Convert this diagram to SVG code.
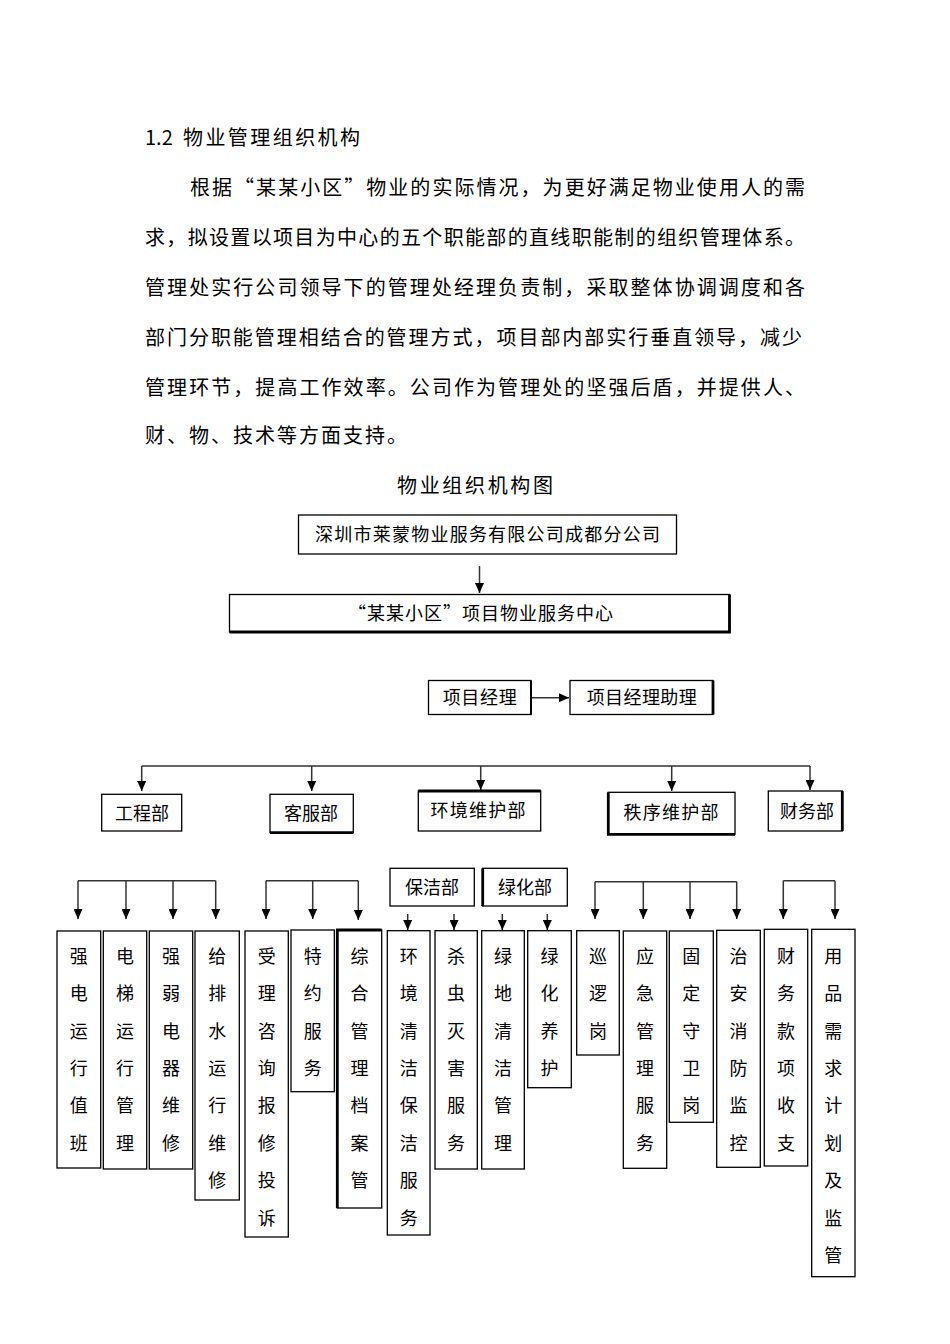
<svg xmlns="http://www.w3.org/2000/svg" width="950" height="1344" viewBox="0 0 950 1344">
<style>
text { font-family: "Noto Sans CJK SC", "Noto Sans", sans-serif; fill: #000; }
.p { font-size: 20px; }
.h { font-size: 18px; text-anchor: middle; }
.box { fill: #fff; stroke: #000; stroke-width: 1.3; }
.thk { stroke: #000; stroke-width: 2.8; fill: none; }
.conn { stroke: #333; stroke-width: 1.5; fill: none; }
.arr { stroke: #333; stroke-width: 1.5; fill: none; marker-end: url(#ah); }
</style>
<defs>
<marker id="ah" viewBox="0 0 10 10" refX="10" refY="5" markerWidth="10" markerHeight="9" markerUnits="userSpaceOnUse" orient="auto" preserveAspectRatio="none">
<path d="M0,0 L10,5 L0,10 Z" fill="#000"/>
</marker>
</defs>
<rect width="950" height="1344" fill="#fff"/>

<g id="body-text">
<text class="p" y="144.5"><tspan x="145">1.2</tspan><tspan x="183" textLength="177" lengthAdjust="spacing">物业管理组织机构</tspan></text>
<text class="p" x="190" y="194.5" textLength="615" lengthAdjust="spacing">根据“某某小区”物业的实际情况，为更好满足物业使用人的需</text>
<text class="p" x="145" y="244.5" textLength="660" lengthAdjust="spacing">求，拟设置以项目为中心的五个职能部的直线职能制的组织管理体系。</text>
<text class="p" x="145" y="294.5" textLength="660" lengthAdjust="spacing">管理处实行公司领导下的管理处经理负责制，采取整体协调调度和各</text>
<text class="p" x="145" y="344.5" textLength="657" lengthAdjust="spacing">部门分职能管理相结合的管理方式，项目部内部实行垂直领导，减少</text>
<text class="p" x="145" y="394.5" textLength="660" lengthAdjust="spacing">管理环节，提高工作效率。公司作为管理处的坚强后盾，并提供人、</text>
<text class="p" x="145" y="442.5" textLength="262" lengthAdjust="spacing">财、物、技术等方面支持。</text>
<text class="p" x="397" y="492.5" textLength="156" lengthAdjust="spacing">物业组织机构图</text>
</g>

<g id="connectors">
<line class="arr" x1="479.5" y1="566" x2="479.5" y2="593"/>
<line class="arr" x1="531" y1="697.7" x2="569" y2="697.7"/>
<polyline class="conn" points="141.7,766 810,766"/>
<line class="arr" x1="141.7" y1="766" x2="141.7" y2="791"/>
<line class="arr" x1="311.7" y1="766" x2="311.7" y2="791"/>
<line class="arr" x1="480.7" y1="766" x2="480.7" y2="790"/>
<line class="arr" x1="671.7" y1="766" x2="671.7" y2="791"/>
<line class="arr" x1="810" y1="766" x2="810" y2="790"/>

<line class="conn" x1="78" y1="880.7" x2="215.7" y2="880.7"/>
<line class="arr" x1="78" y1="880.7" x2="78" y2="919"/>
<line class="arr" x1="126" y1="880.7" x2="126" y2="919"/>
<line class="arr" x1="173" y1="880.7" x2="173" y2="919"/>
<line class="arr" x1="215.7" y1="880.7" x2="215.7" y2="919"/>

<line class="conn" x1="266" y1="880.7" x2="358.3" y2="880.7"/>
<line class="arr" x1="266" y1="880.7" x2="266" y2="919"/>
<line class="arr" x1="312.7" y1="880.7" x2="312.7" y2="919"/>
<line class="arr" x1="358.3" y1="880.7" x2="358.3" y2="920"/>

<line class="arr" x1="407.7" y1="914" x2="407.7" y2="930"/>
<line class="arr" x1="454" y1="914" x2="454" y2="930"/>
<line class="arr" x1="502.3" y1="914" x2="502.3" y2="930"/>
<line class="arr" x1="547.3" y1="914" x2="547.3" y2="930"/>

<line class="conn" x1="595" y1="881.7" x2="736.7" y2="881.7"/>
<line class="arr" x1="595" y1="881.7" x2="595" y2="919"/>
<line class="arr" x1="643.3" y1="881.7" x2="643.3" y2="919"/>
<line class="arr" x1="690" y1="881.7" x2="690" y2="919"/>
<line class="arr" x1="736.7" y1="881.7" x2="736.7" y2="919"/>

<line class="conn" x1="783.3" y1="880.7" x2="835" y2="880.7"/>
<line class="arr" x1="783.3" y1="880.7" x2="783.3" y2="919"/>
<line class="arr" x1="835" y1="880.7" x2="835" y2="919"/>
</g>

<g id="company">
<rect class="box" x="298.5" y="515" width="378" height="39"/>
<text class="h" x="487.5" y="541.3" textLength="345" lengthAdjust="spacing">深圳市莱蒙物业服务有限公司成都分公司</text>
</g>
<g id="service-center">
<rect class="box" x="229.5" y="594.5" width="500" height="37.5"/>
<polyline class="thk" points="229.5,632 729.5,632 729.5,594.5"/>
<text class="h" x="480.5" y="619.8" textLength="265" lengthAdjust="spacing">“某某小区”项目物业服务中心</text>
</g>
<g id="manager">
<rect class="box" x="428.5" y="680.5" width="102.5" height="34"/>
<line class="thk" x1="531" y1="680.5" x2="531" y2="714.5" style="stroke-width:2"/>
<text class="h" x="479.7" y="704.3" textLength="74" lengthAdjust="spacing">项目经理</text>
</g>
<g id="assistant">
<rect class="box" x="570" y="680.5" width="143" height="34"/>
<line class="thk" x1="713" y1="680.5" x2="713" y2="714.5"/>
<text class="h" x="641.7" y="704.3" textLength="110" lengthAdjust="spacing">项目经理助理</text>
</g>

<g id="dept-engineering">
<rect class="box" x="101.7" y="794.3" width="80" height="36.7"/>
<text class="h" x="142" y="819.5">工程部</text>
</g>
<g id="dept-customer">
<rect class="box" x="270" y="794.3" width="83.3" height="38.4"/>
<line class="thk" x1="270" y1="832.7" x2="353.3" y2="832.7"/>
<text class="h" x="311" y="820.3">客服部</text>
</g>
<g id="dept-environment">
<rect class="box" x="418.3" y="791" width="122.4" height="40"/>
<line class="thk" x1="418.3" y1="791" x2="540.7" y2="791"/>
<text class="h" x="478" y="816.8" textLength="95" lengthAdjust="spacing">环境维护部</text>
</g>
<g id="dept-order">
<rect class="box" x="608.3" y="792.3" width="126.7" height="42"/>
<polyline class="thk" points="608.3,792.3 608.3,834.3 735,834.3"/>
<text class="h" x="671" y="818.5" textLength="95" lengthAdjust="spacing">秩序维护部</text>
</g>
<g id="dept-finance">
<rect class="box" x="768.3" y="791" width="74" height="40"/>
<line class="thk" x1="842.3" y1="791" x2="842.3" y2="831"/>
<text class="h" x="807" y="817.8">财务部</text>
</g>

<g id="cleaning">
<rect class="box" x="390" y="868.3" width="84.3" height="37.7"/>
<text class="h" x="432" y="893.5">保洁部</text>
</g>
<g id="greening">
<rect class="box" x="482.7" y="868.3" width="84.6" height="37.7"/>
<line class="thk" x1="482.7" y1="868.3" x2="482.7" y2="906"/>
<text class="h" x="525" y="893.5">绿化部</text>
</g>

<g id="n1">
<rect class="box" x="57" y="931" width="43.7" height="237"/>
<text class="h" y="962.8"><tspan x="78.8">强</tspan><tspan x="78.8" dy="37.4">电</tspan><tspan x="78.8" dy="37.4">运</tspan><tspan x="78.8" dy="37.4">行</tspan><tspan x="78.8" dy="37.4">值</tspan><tspan x="78.8" dy="37.4">班</tspan></text>
</g>
<g id="n2">
<rect class="box" x="103.3" y="931" width="43.4" height="238"/>
<text class="h" y="962.8"><tspan x="125">电</tspan><tspan x="125" dy="37.4">梯</tspan><tspan x="125" dy="37.4">运</tspan><tspan x="125" dy="37.4">行</tspan><tspan x="125" dy="37.4">管</tspan><tspan x="125" dy="37.4">理</tspan></text>
</g>
<g id="n3">
<rect class="box" x="149.3" y="931" width="43.4" height="238"/>
<text class="h" y="962.8"><tspan x="171">强</tspan><tspan x="171" dy="37.4">弱</tspan><tspan x="171" dy="37.4">电</tspan><tspan x="171" dy="37.4">器</tspan><tspan x="171" dy="37.4">维</tspan><tspan x="171" dy="37.4">修</tspan></text>
</g>
<g id="n4">
<rect class="box" x="195" y="931" width="44.3" height="269"/>
<text class="h" y="962.8"><tspan x="217.2">给</tspan><tspan x="217.2" dy="37.4">排</tspan><tspan x="217.2" dy="37.4">水</tspan><tspan x="217.2" dy="37.4">运</tspan><tspan x="217.2" dy="37.4">行</tspan><tspan x="217.2" dy="37.4">维</tspan><tspan x="217.2" dy="37.4">修</tspan></text>
</g>
<g id="n5">
<rect class="box" x="245" y="931" width="43.3" height="306"/>
<text class="h" y="962.8"><tspan x="266.7">受</tspan><tspan x="266.7" dy="37.4">理</tspan><tspan x="266.7" dy="37.4">咨</tspan><tspan x="266.7" dy="37.4">询</tspan><tspan x="266.7" dy="37.4">报</tspan><tspan x="266.7" dy="37.4">修</tspan><tspan x="266.7" dy="37.4">投</tspan><tspan x="266.7" dy="37.4">诉</tspan></text>
</g>
<g id="n6">
<rect class="box" x="291" y="930" width="43.3" height="161.7"/>
<text class="h" y="962.8"><tspan x="312.7">特</tspan><tspan x="312.7" dy="37.4">约</tspan><tspan x="312.7" dy="37.4">服</tspan><tspan x="312.7" dy="37.4">务</tspan></text>
</g>
<g id="n7">
<rect class="box" x="337.3" y="930" width="44.4" height="278"/>
<polyline class="thk" points="337.3,1208 337.3,930 381.7,930"/>
<text class="h" y="962.8"><tspan x="359.5">综</tspan><tspan x="359.5" dy="37.4">合</tspan><tspan x="359.5" dy="37.4">管</tspan><tspan x="359.5" dy="37.4">理</tspan><tspan x="359.5" dy="37.4">档</tspan><tspan x="359.5" dy="37.4">案</tspan><tspan x="359.5" dy="37.4">管</tspan></text>
</g>
<g id="n8">
<rect class="box" x="387.3" y="930.7" width="42.7" height="304.3"/>
<text class="h" y="962.8"><tspan x="408.7">环</tspan><tspan x="408.7" dy="37.4">境</tspan><tspan x="408.7" dy="37.4">清</tspan><tspan x="408.7" dy="37.4">洁</tspan><tspan x="408.7" dy="37.4">保</tspan><tspan x="408.7" dy="37.4">洁</tspan><tspan x="408.7" dy="37.4">服</tspan><tspan x="408.7" dy="37.4">务</tspan></text>
</g>
<g id="n9">
<rect class="box" x="435" y="930.7" width="42.3" height="238.3"/>
<text class="h" y="962.8"><tspan x="456">杀</tspan><tspan x="456" dy="37.4">虫</tspan><tspan x="456" dy="37.4">灭</tspan><tspan x="456" dy="37.4">害</tspan><tspan x="456" dy="37.4">服</tspan><tspan x="456" dy="37.4">务</tspan></text>
</g>
<g id="n10">
<rect class="box" x="481.7" y="930.7" width="42.6" height="238.3"/>
<text class="h" y="962.8"><tspan x="503">绿</tspan><tspan x="503" dy="37.4">地</tspan><tspan x="503" dy="37.4">清</tspan><tspan x="503" dy="37.4">洁</tspan><tspan x="503" dy="37.4">管</tspan><tspan x="503" dy="37.4">理</tspan></text>
</g>
<g id="n11">
<rect class="box" x="527.7" y="930.7" width="43.6" height="157"/>
<text class="h" y="962.8"><tspan x="549.5">绿</tspan><tspan x="549.5" dy="37.4">化</tspan><tspan x="549.5" dy="37.4">养</tspan><tspan x="549.5" dy="37.4">护</tspan></text>
</g>
<g id="n12">
<rect class="box" x="576.7" y="930.7" width="42.6" height="124.3"/>
<text class="h" y="962.8"><tspan x="598">巡</tspan><tspan x="598" dy="37.4">逻</tspan><tspan x="598" dy="37.4">岗</tspan></text>
</g>
<g id="n13">
<rect class="box" x="623.3" y="931" width="43.4" height="237.3"/>
<text class="h" y="962.8"><tspan x="645">应</tspan><tspan x="645" dy="37.4">急</tspan><tspan x="645" dy="37.4">管</tspan><tspan x="645" dy="37.4">理</tspan><tspan x="645" dy="37.4">服</tspan><tspan x="645" dy="37.4">务</tspan></text>
</g>
<g id="n14">
<rect class="box" x="669.3" y="931" width="44" height="191.3"/>
<text class="h" y="962.8"><tspan x="691.3">固</tspan><tspan x="691.3" dy="37.4">定</tspan><tspan x="691.3" dy="37.4">守</tspan><tspan x="691.3" dy="37.4">卫</tspan><tspan x="691.3" dy="37.4">岗</tspan></text>
</g>
<g id="n15">
<rect class="box" x="716.7" y="930.3" width="43.6" height="237"/>
<text class="h" y="962.8"><tspan x="738.5">治</tspan><tspan x="738.5" dy="37.4">安</tspan><tspan x="738.5" dy="37.4">消</tspan><tspan x="738.5" dy="37.4">防</tspan><tspan x="738.5" dy="37.4">监</tspan><tspan x="738.5" dy="37.4">控</tspan></text>
</g>
<g id="n16">
<rect class="box" x="764.3" y="929.3" width="43.4" height="236.7"/>
<text class="h" y="962.8"><tspan x="786">财</tspan><tspan x="786" dy="37.4">务</tspan><tspan x="786" dy="37.4">款</tspan><tspan x="786" dy="37.4">项</tspan><tspan x="786" dy="37.4">收</tspan><tspan x="786" dy="37.4">支</tspan></text>
</g>
<g id="n17">
<rect class="box" x="811.7" y="929.3" width="43.3" height="347.4"/>
<text class="h" y="962.8"><tspan x="833.3">用</tspan><tspan x="833.3" dy="37.4">品</tspan><tspan x="833.3" dy="37.4">需</tspan><tspan x="833.3" dy="37.4">求</tspan><tspan x="833.3" dy="37.4">计</tspan><tspan x="833.3" dy="37.4">划</tspan><tspan x="833.3" dy="37.4">及</tspan><tspan x="833.3" dy="37.4">监</tspan><tspan x="833.3" dy="37.4">管</tspan></text>
</g>
</svg>
